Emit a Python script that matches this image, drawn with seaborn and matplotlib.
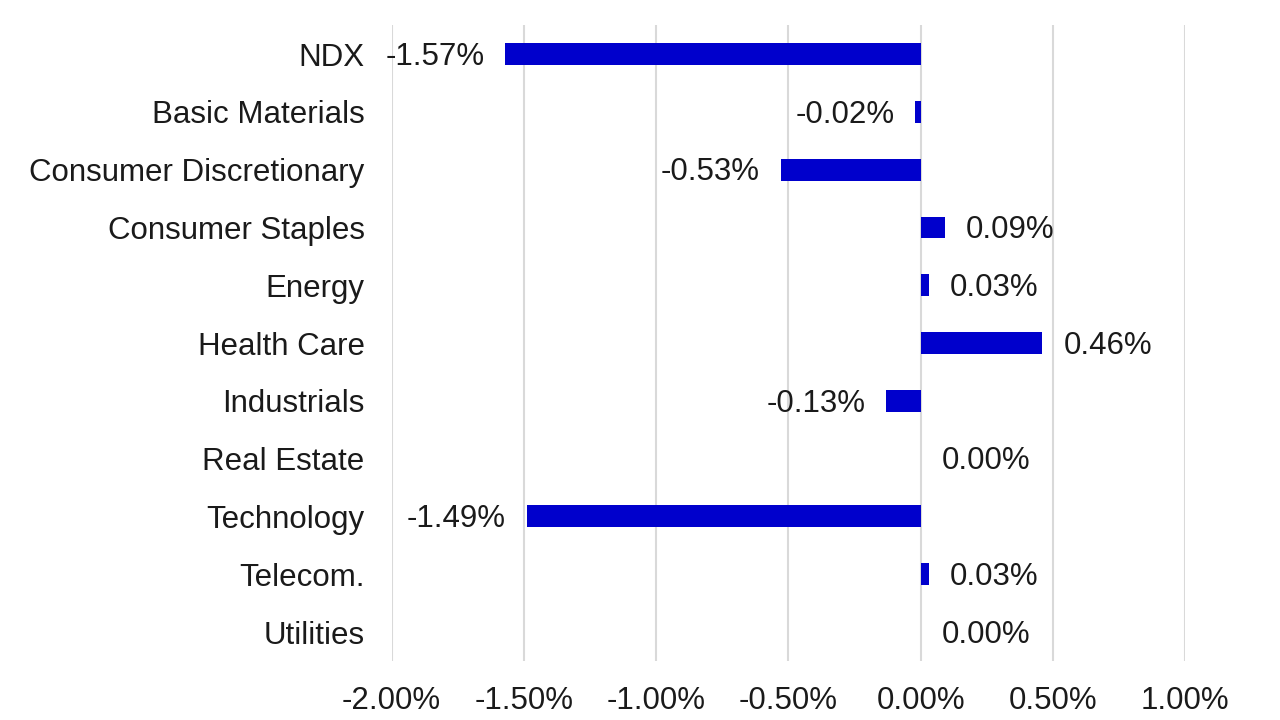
import matplotlib
matplotlib.use("Agg")
import matplotlib.pyplot as plt
import seaborn as sns
import pandas as pd
from matplotlib.ticker import FuncFormatter, MultipleLocator

categories = ["NDX", "Basic Materials", "Consumer Discretionary", "Consumer Staples",
              "Energy", "Health Care", "Industrials", "Real Estate", "Technology",
              "Telecom.", "Utilities"]
values = [-1.57, -0.02, -0.53, 0.09, 0.03, 0.46, -0.13, 0.00, -1.49, 0.03, 0.00]

df = pd.DataFrame({"category": categories, "value": values})

sns.set_theme(style="white")
plt.rcParams['font.family'] = ['Liberation Sans', 'DejaVu Sans']

FS = 22.5
TXT = "#1a1a1a"

fig = plt.figure(figsize=(12.8, 7.2), dpi=100)
ax = fig.add_axes([0.306, 0.082, 0.62, 0.883])

sns.barplot(data=df, x="value", y="category", orient="h", color="#0000CC",
            saturation=1, width=0.38, ax=ax, zorder=3, linewidth=0)

ax.set_xlim(-2.0, 1.0)
ax.xaxis.set_major_locator(MultipleLocator(0.5))
ax.xaxis.set_major_formatter(FuncFormatter(lambda v, p: f"{v:.2f}%"))
ax.grid(axis="x", color="#d9d9d9", linewidth=1.5, zorder=0)
ax.grid(axis="y", visible=False)
for s in ax.spines.values():
    s.set_visible(False)
ax.set_xlabel("")
ax.set_ylabel("")
ax.tick_params(axis="both", length=0, labelsize=FS, colors=TXT)
ax.tick_params(axis="x", pad=18)
ax.tick_params(axis="y", pad=19.5)

for i, v in enumerate(values):
    if v < 0:
        ax.annotate(f"{v:.2f}%", xy=(v, i), xytext=(-15, -2), textcoords="offset points",
                    ha="right", va="center", fontsize=FS, color=TXT)
    else:
        ax.annotate(f"{v:.2f}%", xy=(v, i), xytext=(15, -2), textcoords="offset points",
                    ha="left", va="center", fontsize=FS, color=TXT)

fig.savefig("out.png", dpi=100)
